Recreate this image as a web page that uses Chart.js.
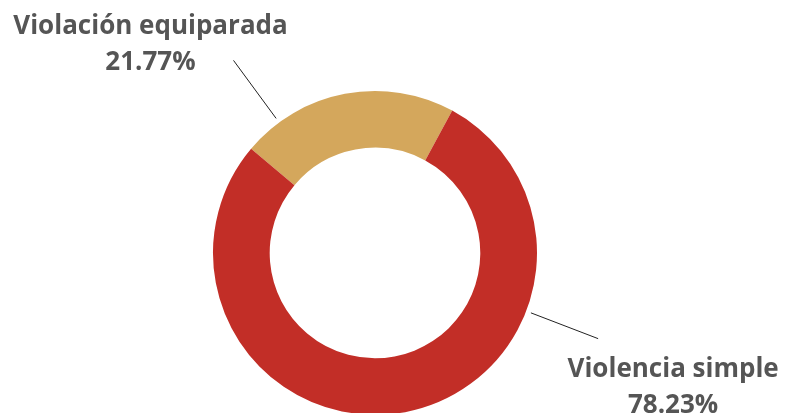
<!DOCTYPE html>
<html>
<head>
<meta charset="utf-8">
<script src="https://cdn.jsdelivr.net/npm/chart.js@4/dist/chart.umd.min.js"></script>
<style>
    html, body { margin: 0; padding: 0; background: #fff; overflow: hidden; }
    #wrap { position: relative; width: 785px; height: 416px; }
</style>
</head>
<body>
<div id="wrap"><canvas id="donut"></canvas></div>
<script>
// ── DATA ─────────────────────────────────────────────

var categories = ['Violación equiparada', 'Violencia simple'];
var values     = [21.77, 78.23];
var valueText  = ['21.77%', '78.23%'];
var colors     = ['#D4A75C', '#C22E27'];

// angle (degrees clockwise from top) where each leader line leaves the ring
var leaderAngles = [-36.3, 111];

// ── LEADER LINES + LABELS ────────────────────────────

var calloutPlugin = {
    id: 'callouts',
    afterDraw: function(chart) {
        var ctx  = chart.ctx;
        var arcs = chart.getDatasetMeta(0).data;
        var arc  = arcs[0];
        var cx = arc.x, cy = arc.y, r = arc.outerRadius;

        ctx.save();
        for (var i = 0; i < categories.length; i++) {
            var a  = leaderAngles[i] * Math.PI / 180;
            var x1 = cx + Math.sin(a) * (r + 5);
            var y1 = cy - Math.cos(a) * (r + 5);
            var x2 = cx + Math.sin(a) * (r + 77);
            var y2 = cy - Math.cos(a) * (r + 77);

            ctx.strokeStyle = '#222';
            ctx.lineWidth = 1;
            ctx.beginPath();
            ctx.moveTo(x1, y1);
            ctx.lineTo(x2, y2);
            ctx.stroke();

            ctx.fillStyle = '#555555';
            ctx.font = 'bold 26px "Open Sans", sans-serif';
            ctx.textAlign = 'center';
            ctx.textBaseline = 'alphabetic';

            var tx, ty;
            if (i === 0) {
                tx = x2 - 83;
                ty = y2 - 26;
            } else {
                tx = x2 + 75;
                ty = y2 + 38;
            }
            ctx.fillText(categories[i], tx, ty);
            ctx.fillText(valueText[i], tx, ty + 36);
        }
        ctx.restore();
    }
};

// ── CHART ────────────────────────────────────────────

var ctx = document.getElementById('donut').getContext('2d');

var chart = new Chart(ctx, {
    type: 'doughnut',
    data: {
        labels: categories,
        datasets: [{
            data: values,
            backgroundColor: colors,
            borderWidth: 0
        }]
    },
    options: {
        responsive: true,
        maintainAspectRatio: false,
        animation: false,
        cutout: '65%',
        rotation: -49.9,
        layout: {
            padding: { top: 91, bottom: 1, left: 213, right: 248 }
        },
        plugins: {
            legend: { display: false },
            tooltip: { enabled: false }
        },
        events: []
    },
    plugins: [calloutPlugin]
});
</script>
</body>
</html>
